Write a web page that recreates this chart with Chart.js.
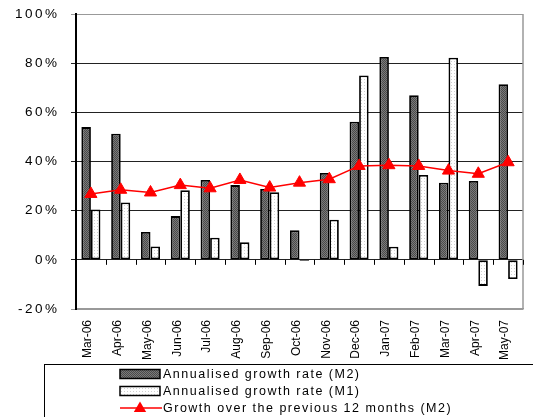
<!DOCTYPE html>
<html>
<head>
<meta charset="utf-8">
<script src="https://cdn.jsdelivr.net/npm/chart.js@4"></script>
<style>
html,body{margin:0;padding:0;background:#fff;}
#wrap{position:relative;width:533px;height:417px;}
</style>
</head>
<body>
<div id="wrap"><canvas id="c" width="533" height="417"></canvas></div>
<script>
const categories = ["Mar-06","Apr-06","May-06","Jun-06","Jul-06","Aug-06","Sep-06","Oct-06","Nov-06","Dec-06","Jan-07","Feb-07","Mar-07","Apr-07","May-07"];
const m2Annualised = [54.0, 51.3, 11.3, 17.8, 32.5, 30.4, 28.8, 12.0, 35.3, 56.2, 82.5, 67.0, 31.4, 32.1, 71.4];
const m1Annualised = [20.5, 23.3, 5.4, 28.3, 9.0, 7.2, 27.5, -0.5, 16.3, 75.0, 5.3, 34.5, 82.2, -10.6, -7.8];
const m2Yearly = [26.8, 28.5, 27.4, 30.4, 29.1, 32.5, 29.4, 31.4, 32.8, 38.2, 38.5, 38.2, 36.3, 35.0, 39.7];
const yTicks = [-20, 0, 20, 40, 60, 80, 100];
const seriesLabels = ["Annualised growth rate (M2)", "Annualised growth rate (M1)", "Growth over the previous 12 months (M2)"];

function makePattern(a, b, size, dot) {
  const p = document.createElement('canvas');
  p.width = size; p.height = size;
  const g = p.getContext('2d');
  g.fillStyle = a; g.fillRect(0, 0, size, size);
  g.fillStyle = b;
  if (dot) { g.fillRect(1, 1, 1, 1); }
  else { g.fillRect(0, 0, 1, 1); g.fillRect(1, 1, 1, 1); }
  return document.getElementById('c').getContext('2d').createPattern(p, 'repeat');
}
const darkFill = makePattern('#7a7a7a', '#4a4a4a', 2, false);
const lightFill = makePattern('#ffffff', '#d0d0d0', 3, true);

const FONT = "'Liberation Sans', Arial, sans-serif";

const extrasPlugin = {
  id: 'extras',
  afterUpdate(chart) {
    const y = chart.scales.y;
    if (y && !y._ls) {
      const orig = y.drawLabels.bind(y);
      y.drawLabels = function (area) {
        const c = this.ctx; c.save(); c.letterSpacing = '2.5px'; orig(area); c.restore();
      };
      y._ls = true;
    }
  },
  beforeDatasetsDraw(chart) {
    const ctx = chart.ctx, a = chart.chartArea, x = chart.scales.x, y = chart.scales.y;
    ctx.save();
    ctx.strokeStyle = '#999'; ctx.lineWidth = 1.5;
    ctx.beginPath(); ctx.moveTo(a.right, a.top); ctx.lineTo(a.right, a.bottom); ctx.stroke();
    const y0 = y.getPixelForValue(0);
    ctx.strokeStyle = '#000'; ctx.lineWidth = 1;
    for (let i = 1; i <= categories.length; i++) {
      const px = Math.round(x.getPixelForValue(i - 0.5)) + 0.5;
      ctx.beginPath(); ctx.moveTo(px, y0); ctx.lineTo(px, y0 + 5); ctx.stroke();
    }
    ctx.restore();
  },
  afterDraw(chart) {
    const ctx = chart.ctx;
    const ds = chart.data.datasets;
    ctx.save();
    ctx.strokeStyle = '#000'; ctx.lineWidth = 1;
    ctx.strokeRect(44.5, 364.5, 540, 80);
    const rows = [374, 391, 408];
    const sx = 120, sw = 40;
    ctx.fillStyle = darkFill; ctx.fillRect(sx, rows[0] - 4.5, sw, 9);
    ctx.strokeStyle = '#000'; ctx.lineWidth = 1.5; ctx.strokeRect(sx, rows[0] - 4.5, sw, 9);
    ctx.fillStyle = lightFill; ctx.fillRect(sx, rows[1] - 4.5, sw, 9);
    ctx.strokeRect(sx, rows[1] - 4.5, sw, 9);
    ctx.strokeStyle = '#ff0000'; ctx.lineWidth = 1.5;
    ctx.beginPath(); ctx.moveTo(sx, rows[2]); ctx.lineTo(sx + sw + 2, rows[2]); ctx.stroke();
    ctx.fillStyle = '#ff0000';
    const cx = sx + sw / 2, r = 6.5;
    ctx.beginPath();
    ctx.moveTo(cx, rows[2] - r);
    ctx.lineTo(cx + r * 0.95, rows[2] + r * 0.6);
    ctx.lineTo(cx - r * 0.95, rows[2] + r * 0.6);
    ctx.closePath(); ctx.fill();
    ctx.fillStyle = '#000';
    ctx.font = '12.5px ' + FONT;
    ctx.letterSpacing = '1.5px';
    ctx.textBaseline = 'middle';
    ctx.textAlign = 'left';
    const order = [1, 2, 0];
    order.forEach((di, k) => { ctx.fillText(ds[di].label, 163, rows[k] + 0.5); });
    ctx.restore();
  }
};

new Chart(document.getElementById('c'), {
  type: 'bar',
  data: {
    labels: categories,
    datasets: [
      {
        type: 'line', label: seriesLabels[2], data: m2Yearly,
        borderColor: '#ff0000', backgroundColor: '#ff0000', borderWidth: 1.5,
        pointStyle: 'triangle', pointRadius: 7, pointBorderWidth: 1,
        pointBackgroundColor: '#ff0000', pointBorderColor: '#ff0000', tension: 0
      },
      {
        label: seriesLabels[0], data: m2Annualised,
        backgroundColor: darkFill, borderColor: '#000', borderWidth: 1.8, borderSkipped: false,
        categoryPercentage: 0.64, barPercentage: 1.0
      },
      {
        label: seriesLabels[1], data: m1Annualised,
        backgroundColor: lightFill, borderColor: '#000', borderWidth: 1.8, borderSkipped: false,
        categoryPercentage: 0.64, barPercentage: 1.0
      }
    ]
  },
  options: {
    responsive: false,
    animation: false,
    events: [],
    layout: { padding: { left: 0, right: 10, top: 14, bottom: 53 } },
    plugins: { legend: { display: false }, tooltip: { enabled: false } },
    scales: {
      x: {
        offset: true,
        grid: { display: false, drawTicks: false },
        border: { display: true, color: '#999', width: 1.5 },
        ticks: {
          color: '#000', font: { family: FONT, size: 12 },
          minRotation: 90, maxRotation: 90, autoSkip: false, padding: 11, labelOffset: -3
        },
        afterFit(s) { s.height = 55; s.paddingLeft = 0; s.paddingRight = 0; }
      },
      y: {
        min: -20, max: 100,
        afterBuildTicks(s) { s.ticks = yTicks.map(v => ({ value: v })); },
        grid: {
          color: (c) => (c.tick && (c.tick.value === 100 || c.tick.value === -20)) ? '#999' : '#222',
          lineWidth: 1, tickLength: 5, drawTicks: true
        },
        border: { display: true, color: '#000', width: 2 },
        ticks: {
          color: '#000', font: { family: FONT, size: 13.5 }, padding: 11.5,
          callback: (v) => v + '%'
        },
        afterFit(s) { s.width = 76; s.paddingTop = 0; s.paddingBottom = 0; }
      }
    }
  },
  plugins: [extrasPlugin]
});
</script>
</body>
</html>
